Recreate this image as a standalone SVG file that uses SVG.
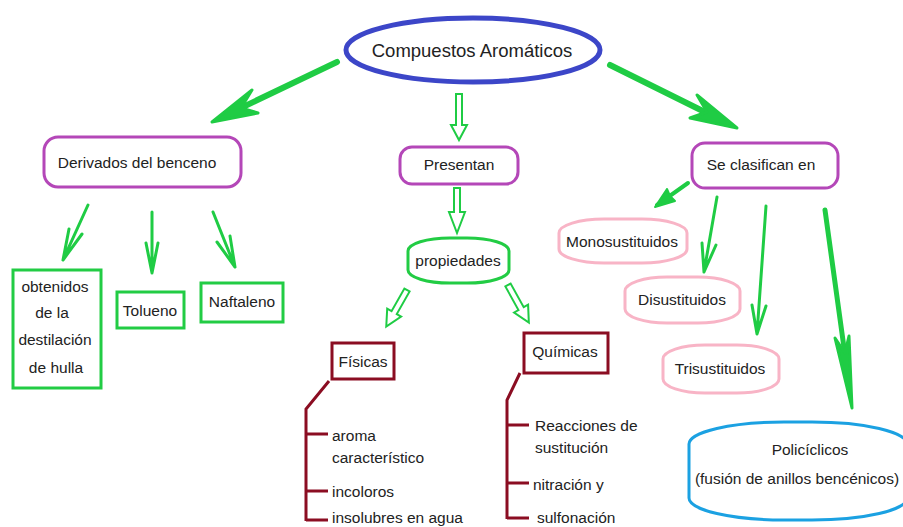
<svg xmlns="http://www.w3.org/2000/svg" width="903" height="527" viewBox="0 0 903 527">
<style>
text{font-family:"Liberation Sans",Arial,sans-serif;font-size:15.5px;fill:#222}
.mid{text-anchor:middle}
.purple{fill:#fff;stroke:#b447b8;stroke-width:3}
.green{fill:#fff;stroke:#22cc44;stroke-width:3}
.pink{fill:#fff;stroke:#f8b4c6;stroke-width:3}
.red{fill:#fff;stroke:#8b0d22;stroke-width:3}
.br{fill:none;stroke:#8b0d22;stroke-width:3}
.ln{fill:none;stroke:#1fcc44;stroke-linecap:round;stroke-linejoin:round}
.head{fill:#1fcc44;stroke:#1fcc44;stroke-linejoin:round}
.hollow{fill:#fff;stroke:#1fcc44;stroke-width:2;stroke-linejoin:miter}
</style>
<rect width="903" height="527" fill="#fff"/>
<g id="connectors">
  <!-- big arrows from title -->
  <path class="ln" stroke-width="6" d="M337,62 L222,117"/>
  <path class="head" stroke-width="3" d="M212,122 L252,90 L241,108 L258,113 Z"/>
  <path class="ln" stroke-width="6" d="M610,65 L727,123"/>
  <path class="head" stroke-width="3" d="M737,128 L697,95 L707,112 L690,118 Z"/>
  <!-- hollow arrows -->
  <polygon class="hollow" points="456,94 462,94 462,125 467,125 459,140 451,125 456,125"/>
  <polygon class="hollow" points="454,188 460,188 460,212 465,212 457,233 449,212 454,212"/>
  <polygon class="hollow" transform="translate(407,290) rotate(29.6)" points="-3,0 3,0 3,26 8,26 0,42 -8,26 -3,26"/>
  <polygon class="hollow" transform="translate(508,285) rotate(-29)" points="-3,0 3,0 3,27 8,27 0,43 -8,27 -3,27"/>
  <!-- Derivados arrows -->
  <path class="ln" stroke-width="3" d="M88,205 L63,260 M82,234 L63,260 L69,229"/>
  <path class="ln" stroke-width="3" d="M152,212 L152,273 M146,243 L152,273 L158,243"/>
  <path class="ln" stroke-width="3" d="M213,212 L235,267 M230,236 L235,267 L217,242"/>
  <!-- Se clasifican arrows -->
  <path class="ln" stroke-width="4" d="M688,183 L657,205"/>
  <path class="head" stroke-width="2" d="M655,207 L675,201 L670,196 L667,189 Z"/>
  <path class="ln" stroke-width="3" d="M717,197 L704,272 M716,245 L704,272 L702,243"/>
  <path class="ln" stroke-width="3" d="M766,206 L757,334 M766,306 L757,334 L752,305"/>
  <path class="ln" stroke-width="5" d="M825,210 L845,355"/>
  <path class="head" stroke-width="3" d="M852,408 L849,336 L845,353 L835,338 Z"/>
  <!-- brackets -->
  <path class="br" d="M329,381 L306,409 L306,521 M306,434 L328,434 M306,491 L328,491 M306,520 L328,520"/>
  <path class="br" d="M520,373 L507,400 L507,519 M507,425 L529,425 M507,483 L529,483 M507,518 L529,518"/>
</g>
<g id="title">
  <ellipse cx="473" cy="50" rx="127" ry="32" fill="#fff" stroke="#3c46c8" stroke-width="5"/>
  <text class="mid" x="472" y="57" style="font-size:18.5px">Compuestos Aromáticos</text>
</g>
<g id="derivados">
  <rect class="purple" x="44" y="137" width="197" height="50" rx="14"/>
  <text class="mid" x="137" y="168">Derivados del benceno</text>
</g>
<g id="presentan">
  <rect class="purple" x="400" y="147" width="118" height="37" rx="12"/>
  <text class="mid" x="459" y="170">Presentan</text>
</g>
<g id="clasifican">
  <rect class="purple" x="692" y="143" width="146" height="45" rx="13"/>
  <text class="mid" x="761" y="170">Se clasifican en</text>
</g>
<g id="propiedades">
  <rect class="green" x="408" y="238" width="101" height="45" rx="42" ry="13"/>
  <text class="mid" x="458" y="266">propiedades</text>
</g>
<g id="obtenidos">
  <rect class="green" x="13" y="270" width="88" height="118"/>
  <text class="mid" x="55" y="292">obtenidos</text>
  <text class="mid" x="52" y="318">de la</text>
  <text class="mid" x="55" y="345">destilación</text>
  <text class="mid" x="56" y="373">de hulla</text>
</g>
<g id="tolueno">
  <rect class="green" x="117" y="292" width="67" height="36"/>
  <text class="mid" x="150" y="316">Tolueno</text>
</g>
<g id="naftaleno">
  <rect class="green" x="201" y="283" width="82" height="39"/>
  <text class="mid" x="242" y="307">Naftaleno</text>
</g>
<g id="fisicas">
  <rect class="red" x="332" y="343" width="62" height="36"/>
  <text class="mid" x="363" y="367">Físicas</text>
</g>
<g id="quimicas">
  <rect class="red" x="524" y="333" width="84" height="40"/>
  <text class="mid" x="565" y="357">Químicas</text>
</g>
<g id="fisicas-items">
  <text x="332" y="441">aroma</text>
  <text x="332" y="463">característico</text>
  <text x="332" y="497">incoloros</text>
  <text x="332" y="523">insolubres en agua</text>
</g>
<g id="quimicas-items">
  <text x="535" y="431">Reacciones de</text>
  <text x="535" y="453">sustitución</text>
  <text x="533" y="490">nitración y</text>
  <text x="537" y="523">sulfonación</text>
</g>
<g id="mono">
  <rect class="pink" x="559" y="219" width="128" height="44" rx="45" ry="14"/>
  <text class="mid" x="622" y="247">Monosustituidos</text>
</g>
<g id="di">
  <rect class="pink" x="625" y="277" width="115" height="46" rx="42" ry="14"/>
  <text class="mid" x="682" y="305">Disustituidos</text>
</g>
<g id="tri">
  <rect class="pink" x="663" y="345" width="116" height="48" rx="42" ry="14"/>
  <text class="mid" x="720" y="374">Trisustituidos</text>
</g>
<g id="policiclicos">
  <rect x="689" y="422" width="218" height="98" rx="95" ry="22" fill="#fff" stroke="#1ba1e2" stroke-width="3"/>
  <text class="mid" x="810" y="455">Policíclicos</text>
  <text class="mid" x="797" y="484">(fusión de anillos bencénicos)</text>
</g>
</svg>
